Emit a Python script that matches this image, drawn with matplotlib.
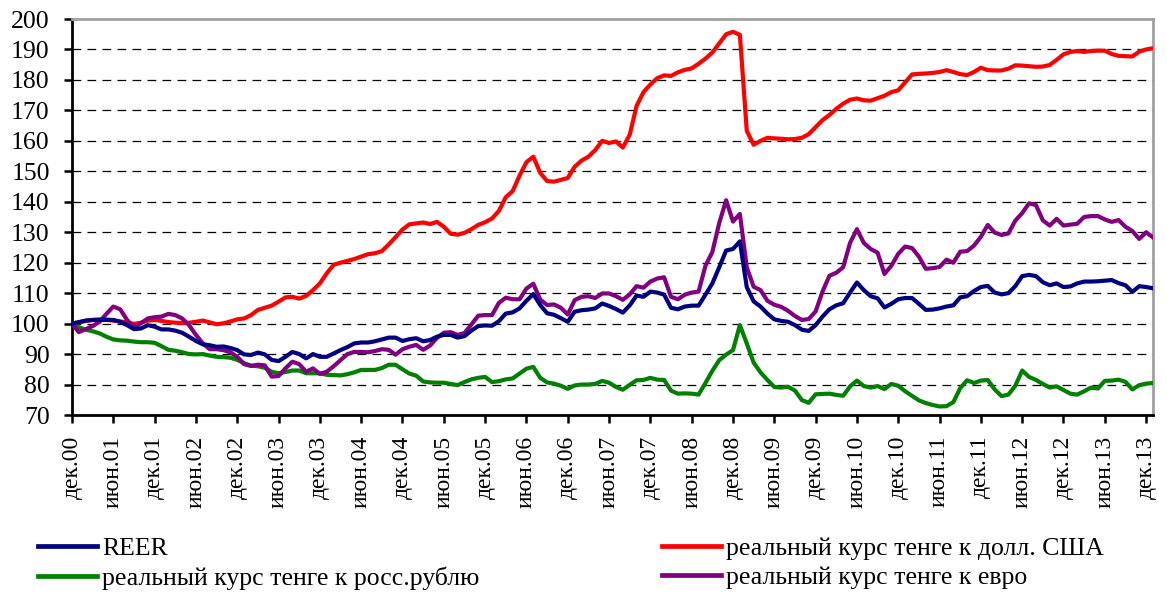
import matplotlib
matplotlib.use("Agg")
import matplotlib.pyplot as plt
import numpy as np

plt.rcParams['font.family'] = ['Liberation Serif', 'DejaVu Serif']

# Monthly data, Dec 2000 .. Jan 2014
reer = [100.0, 100.5, 101.0, 101.2, 101.2, 101.3, 101.2, 100.6, 99.5, 98.2,
        98.4, 99.5, 99.0, 98.1, 98.1, 97.7, 97.0, 95.7, 94.3, 93.2,
        92.9, 92.4, 92.5, 92.0, 91.3, 89.9, 89.7, 90.5, 89.9, 88.1,
        87.7, 89.1, 90.7, 90.0, 88.6, 90.0, 89.1, 89.1, 90.2, 91.3,
        92.3, 93.5, 93.8, 93.8, 94.2, 94.8, 95.4, 95.4, 94.3, 94.9,
        95.2, 94.2, 94.6, 95.7, 96.3, 96.3, 95.4, 95.9, 97.7, 99.2,
        99.4, 99.3, 100.8, 103.3, 103.7, 105.0, 107.5, 109.7, 106.1, 103.4,
        102.9, 101.8, 100.6, 103.9, 104.4, 104.6, 105.0, 106.6, 105.8, 104.8,
        103.6, 106.0, 109.2, 108.8, 110.5, 110.2, 109.5, 105.2, 104.7, 105.6,
        105.9, 105.9, 109.5, 113.2, 118.5, 124.0, 124.5, 127.0, 112.0, 107.3,
        105.6, 103.3, 101.4, 100.9, 100.6, 99.5, 98.0, 97.6, 99.5, 102.3,
        104.7, 106.0, 106.7, 110.2, 113.5, 111.0, 109.0, 108.3, 105.3, 106.5,
        108.0, 108.4, 108.4, 106.5, 104.5, 104.6, 105.0, 105.6, 106.0, 108.6,
        109.0, 110.7, 112.0, 112.4, 110.2, 109.6, 110.0, 112.3, 115.6, 116.0,
        115.6, 113.6, 112.6, 113.2, 112.0, 112.2, 113.2, 113.8, 113.8, 113.9,
        114.1, 114.3, 113.3, 112.6, 110.4, 112.3, 112.0, 111.6]

usd = [100.0, 100.4, 100.9, 101.2, 101.4, 101.2, 101.0, 100.7, 100.4, 99.9,
       100.3, 101.0, 101.2, 100.9, 100.5, 100.3, 100.2, 100.3, 100.6, 101.0,
       100.4, 99.8, 100.1, 100.7, 101.4, 101.7, 102.8, 104.5, 105.2, 105.9,
       107.2, 108.6, 108.8, 108.2, 109.1, 111.0, 113.2, 116.5, 119.3, 120.0,
       120.6, 121.2, 122.0, 122.8, 123.1, 123.8, 126.0, 128.4, 130.9, 132.6,
       132.9, 133.2, 132.7, 133.4, 131.8, 129.5, 129.2, 129.8, 131.0, 132.4,
       133.3, 134.5, 137.0, 141.5, 143.5, 148.6, 153.0, 154.8, 149.5, 146.8,
       146.6, 147.2, 147.8, 151.5, 153.5, 154.8, 157.0, 160.0, 159.3, 159.8,
       157.8, 162.0, 171.5, 176.0, 178.5, 180.6, 181.5, 181.3, 182.5, 183.3,
       183.8, 185.3, 187.0, 189.0, 192.0, 195.0, 195.8, 194.8, 163.3, 158.7,
       160.0, 161.0, 160.8, 160.7, 160.5, 160.6, 161.0, 162.2, 164.5, 166.8,
       168.5, 170.5, 172.2, 173.5, 173.9, 173.3, 173.2, 174.0, 174.8, 176.0,
       176.6, 179.2, 181.8, 182.0, 182.1, 182.3, 182.6, 183.2, 182.6, 181.9,
       181.6, 182.6, 184.0, 183.2, 183.1, 183.1, 183.7, 184.8, 184.7, 184.5,
       184.3, 184.4, 184.9, 186.6, 188.4, 189.2, 189.5, 189.2, 189.5, 189.6,
       189.6, 188.5, 187.9, 187.8, 187.7, 189.3, 190.0, 190.4]

rub = [100.0, 98.8, 98.0, 97.5, 96.8, 95.7, 94.8, 94.5, 94.4, 94.1,
       93.9, 93.9, 93.7, 92.6, 91.4, 91.1, 90.6, 90.0, 89.9, 90.0,
       89.5, 89.1, 89.0, 88.8, 88.1, 87.0, 86.2, 86.0, 85.5, 84.2,
       83.7, 84.1, 84.6, 84.6, 83.7, 83.7, 83.7, 83.2, 83.1, 83.0,
       83.4, 84.0, 84.8, 84.8, 84.8, 85.4, 86.5, 86.5, 85.0, 83.6,
       82.9, 81.0, 80.7, 80.6, 80.6, 80.2, 79.8, 80.8, 81.7, 82.2,
       82.5, 80.8, 81.1, 81.7, 82.0, 83.6, 85.2, 85.8, 82.2, 80.7,
       80.3, 79.6, 78.6, 79.7, 80.0, 80.0, 80.2, 81.2, 80.6, 79.2,
       78.3, 79.9, 81.4, 81.5, 82.2, 81.6, 81.5, 78.0, 77.0, 77.1,
       77.0, 76.7, 80.5, 84.5, 88.0, 89.8, 91.3, 99.5, 93.5, 87.2,
       84.0, 81.5, 79.2, 79.0, 79.3, 78.0, 74.9, 74.0, 76.8, 76.9,
       77.0, 76.6, 76.3, 79.4, 81.3, 79.5, 79.0, 79.5, 78.5, 80.2,
       79.6, 77.8, 76.3, 74.8, 73.9, 73.3, 72.8, 72.9, 74.2, 78.8,
       81.4, 80.5, 81.3, 81.5, 78.4, 76.2, 76.7, 79.6, 84.6, 82.5,
       81.5, 80.2, 79.0, 79.4, 78.2, 77.0, 76.7, 77.8, 79.0, 78.7,
       81.2, 81.3, 81.6, 80.9, 78.4, 79.8, 80.3, 80.5]

eur = [100.0, 97.2, 98.2, 99.2, 100.6, 103.2, 105.6, 104.7, 101.2, 98.8,
       100.1, 101.7, 102.1, 102.3, 103.2, 102.8, 101.7, 99.5, 96.3, 93.5,
       91.6, 91.6, 91.3, 90.6, 89.1, 86.7, 86.1, 86.5, 86.3, 82.6,
       82.8, 85.3, 87.5, 86.7, 84.2, 85.3, 83.5, 84.2, 86.0, 88.0,
       90.0, 90.7, 90.7, 90.6, 91.0, 91.6, 91.4, 89.8, 91.6, 92.4,
       93.0, 91.4, 92.8, 95.3, 97.0, 97.2, 96.3, 96.9, 99.7, 102.6,
       102.8, 102.8, 106.8, 108.5, 108.0, 108.0, 111.5, 113.1, 107.9, 106.1,
       106.3, 105.2, 103.0, 107.7, 108.8, 109.0, 108.4, 109.9, 109.9, 109.0,
       107.8, 109.6, 112.3, 111.8, 113.8, 114.8, 115.2, 108.8, 108.0, 109.5,
       110.2, 110.5, 119.0, 123.5, 133.0, 140.5, 133.5, 136.0, 118.5, 112.1,
       111.0, 107.5, 106.2, 105.5, 104.2, 102.5, 101.2, 101.5, 104.0, 110.5,
       115.7, 116.7, 118.5, 126.5, 131.0, 126.5, 124.5, 123.3, 116.3, 119.0,
       122.9, 125.3, 124.8, 122.0, 118.0, 118.2, 118.6, 121.0, 120.0, 123.6,
       123.8, 125.6, 128.5, 132.4, 129.9, 129.1, 129.6, 133.8, 136.3, 139.5,
       138.9, 133.9, 132.2, 134.4, 132.2, 132.5, 132.8, 135.0, 135.3, 135.3,
       134.2, 133.4, 134.0, 131.8, 130.4, 127.8, 130.0, 128.3]

tick_labels = ['дек.00', 'июн.01', 'дек.01', 'июн.02', 'дек.02', 'июн.03', 'дек.03',
               'июн.04', 'дек.04', 'июн.05', 'дек.05', 'июн.06', 'дек.06', 'июн.07',
               'дек.07', 'июн.08', 'дек.08', 'июн.09', 'дек.09', 'июн.10', 'дек.10',
               'июн.11', 'дек.11', 'июн.12', 'дек.12', 'июн.13', 'дек.13']

labels = ['REER', 'реальный курс тенге к долл. США',
          'реальный курс тенге к росс.рублю', 'реальный курс тенге к евро']
colors = ['#000080', '#FF0000', '#008000', '#800080']

W, H = 1167, 597
FS = 18.5
fig = plt.figure(figsize=(W / 100, H / 100), dpi=100)
ax = fig.add_axes([72 / W, (H - 415) / H, (1153 - 72) / W, (415 - 19) / H])

x = np.arange(len(reer))
lw = 3.0
l_reer, = ax.plot(x, reer, color=colors[0], lw=lw, solid_joinstyle='round', zorder=4)
l_usd, = ax.plot(x, usd, color=colors[1], lw=lw, solid_joinstyle='round', zorder=3)
l_rub, = ax.plot(x, rub, color=colors[2], lw=lw, solid_joinstyle='round', zorder=3)
l_eur, = ax.plot(x, eur, color=colors[3], lw=lw, solid_joinstyle='round', zorder=3)

ax.set_xlim(0, len(reer) - 1)
ax.set_ylim(70, 200)
ax.set_yticks(np.arange(70, 201, 10))
ax.set_xticks(np.arange(0, 6 * len(tick_labels), 6))
ax.set_xticklabels(tick_labels, rotation=90)

for yv in range(80, 200, 10):
    ax.axhline(yv, color='black', lw=0.9, ls=(0, (7, 5)), zorder=1)

for s in ['top', 'right']:
    ax.spines[s].set_color('#a0a0a0')
    ax.spines[s].set_linewidth(2)
for s in ['left', 'bottom']:
    ax.spines[s].set_color('black')
    ax.spines[s].set_linewidth(2)

ax.tick_params(axis='both', direction='out', length=6, width=1.8, colors='black')
ax.tick_params(axis='x', pad=9, labelsize=17)
ax.tick_params(axis='y', pad=10, labelsize=FS)

common = dict(loc='upper left', frameon=False, fontsize=FS, handlelength=2.3,
              handletextpad=0.2, borderpad=0, borderaxespad=0, labelspacing=0.25)
leg1 = fig.legend([l_reer, l_rub], [labels[0], labels[2]],
                  bbox_to_anchor=(38 / W, 1 - 537 / H), **common)
leg2 = fig.legend([l_usd, l_eur], [labels[1], labels[3]],
                  bbox_to_anchor=(662 / W, 1 - 537 / H), **common)
for lg in (leg1, leg2):
    for ln in lg.get_lines():
        ln.set_linewidth(3.4)

fig.savefig('out.png', dpi=100)
